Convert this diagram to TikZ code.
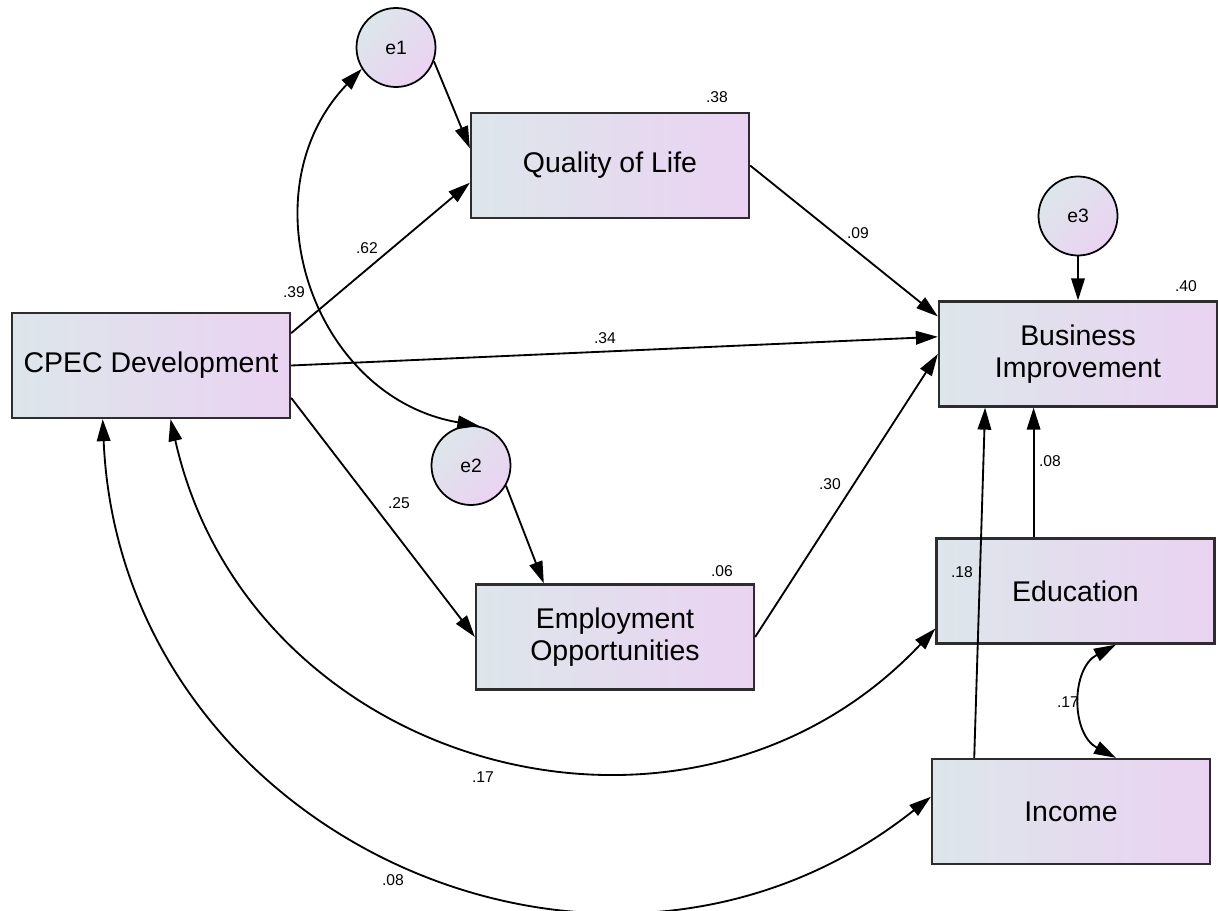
\documentclass[tikz,border=0pt]{standalone}
\usepackage{fontspec}
\setmainfont{Liberation Sans}
\usetikzlibrary{arrows.meta}
\definecolor{varleft}{RGB}{221,230,234}
\definecolor{varright}{RGB}{234,211,242}
\definecolor{rim}{RGB}{45,45,45}

\begin{document}
\begin{tikzpicture}[
    obs/.style={rectangle, draw=rim, line width=1.3pt, left color=varleft, right color=varright, minimum width=5.56cm, minimum height=2.1cm, align=center, font=\fontsize{16.2}{17.8}\selectfont},
    err/.style={circle, draw=black, line width=1pt, left color=varleft, right color=varright, shading angle=45, minimum size=1.58cm, inner sep=0pt, font=\fontsize{11}{13}\selectfont},
    reg/.style={line width=1.05pt, -{Triangle[length=0.44cm, width=0.27cm]}},
    cov/.style={line width=1.05pt, {Triangle[length=0.44cm, width=0.27cm]}-{Triangle[length=0.44cm, width=0.27cm]}},
    coef/.style={font=\fontsize{8.9}{10}\selectfont, inner sep=0pt}
  ]
  \useasboundingbox (0,0) rectangle (24.36,-18.22);

  % Observed variables
  \node[obs] (cpec) at (3.02,-7.31) {CPEC Development};
  \node[obs] (qol) at (12.20,-3.31) {Quality of Life};
  \node[obs] (bi) at (21.56,-7.08) {Business\\Improvement};
  \node[obs] (emp) at (12.30,-12.74) {Employment\\Opportunities};
  \node[obs] (edu) at (21.51,-11.82) {Education};
  \node[obs] (inc) at (21.42,-16.23) {Income};

  % Error terms
  \node[err] (e1) at (7.92,-0.95) {e1};
  \node[err] (e2) at (9.42,-9.31) {e2};
  \node[err] (e3) at (21.56,-4.32) {e3};

  % Regression paths
  \draw[reg] (e1.-20) -- (qol.173);
  \draw[reg] (e2.-30) -- (emp.143);
  \draw[reg] (e3.south) -- (bi.north);
  \draw[reg] (cpec.13) -- (qol.187);
  \draw[reg] (cpec.east) -- (bi.173);
  \draw[reg] (cpec.-13) -- (emp.west);
  \draw[reg] (qol.east) -- (bi.165);
  \draw[reg] (emp.east) -- (bi.west);
  \draw[reg] (edu.128) -- (edu.128 |- bi.south);
  \draw[reg] (inc.151) -- (bi.210);

  % Covariances
  \draw[cov] (e1.212) to[bend right=62, looseness=1.16] (e2.78);
  \draw[cov] (cpec.-70) to[bend right=62, looseness=1.16] (edu.195);
  \draw[cov] (cpec.228) to[bend right=63, looseness=1.17] (inc.174);
  \draw[cov] (edu.-53) to[bend right=62, looseness=1.16] (inc.50);

  % Squared multiple correlations
  \node[coef] (rqol) at (14.34,-1.94) {.38};
  \node[coef] (rbi) at (23.72,-5.72) {.40};
  \node[coef] (remp) at (14.44,-11.42) {.06};

  % Path estimates
  \node[coef] (wcq) at (7.34,-4.96) {.62};
  \node[coef] (wcb) at (12.10,-6.76) {.34};
  \node[coef] (wce) at (7.98,-10.06) {.25};
  \node[coef] (wqb) at (17.16,-4.66) {.09};
  \node[coef] (wpb) at (16.60,-9.68) {.30};
  \node[coef] (wdb) at (21.00,-9.22) {.08};
  \node[coef] (wib) at (19.24,-11.44) {.18};

  % Covariance estimates
  \node[coef] (c12) at (5.88,-5.84) {.39};
  \node[coef] (ccd) at (9.66,-15.54) {.17};
  \node[coef] (cci) at (7.86,-17.60) {.08};
  \node[coef] (cdi) at (21.36,-14.04) {.17};

\end{tikzpicture}
\end{document}
